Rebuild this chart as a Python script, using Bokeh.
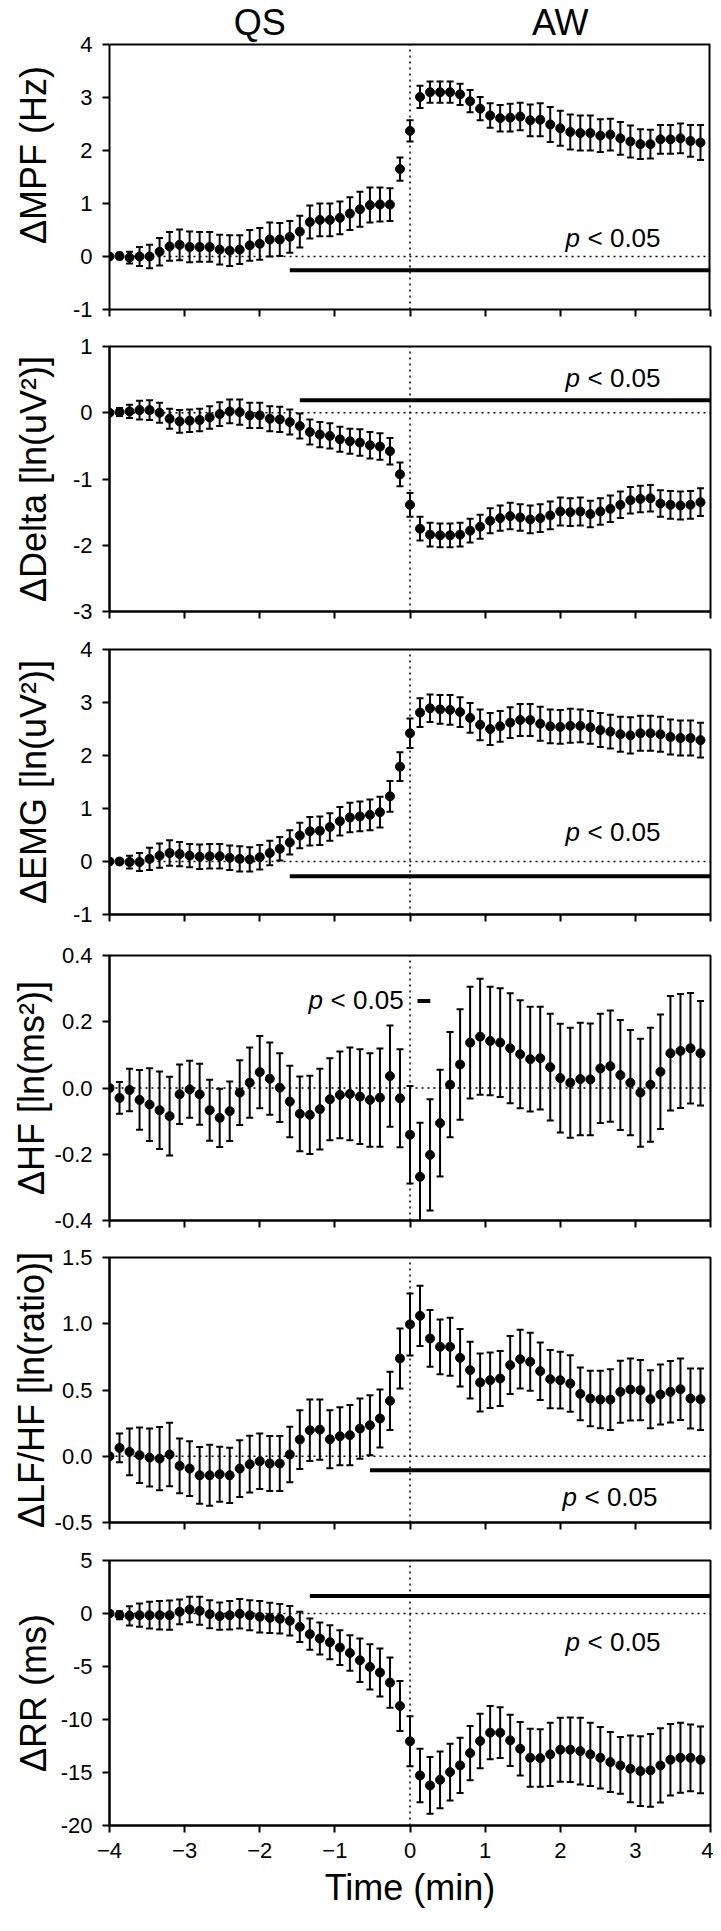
from bokeh.plotting import figure
from bokeh.layouts import column
from bokeh.models import Range1d, FixedTicker, Span, Label, ColumnDataSource
from bokeh.core.properties import value
from bokeh.embed import file_html
from bokeh.resources import INLINE

# ---- data -------------------------------------------------------------
time_s = [-240, -232, -224, -216, -208, -200, -192, -184, -176, -168,
          -160, -152, -144, -136, -128, -120, -112, -104, -96, -88,
          -80, -72, -64, -56, -48, -40, -32, -24, -16, -8,
          0, 8, 16, 24, 32, 40, 48, 56, 64, 72,
          80, 88, 96, 104, 112, 120, 128, 136, 144, 152,
          160, 168, 176, 184, 192, 200, 208, 216, 224, 232]

mpf = [0.00, 0.01, -0.02, 0.00, 0.00, 0.09, 0.19, 0.22, 0.18, 0.18, 0.18, 0.13, 0.11, 0.13, 0.21,
       0.24, 0.32, 0.32, 0.37, 0.47, 0.65, 0.69, 0.69, 0.73, 0.81, 0.89, 0.97, 0.98, 0.98, 1.65,
       2.37, 3.01, 3.10, 3.10, 3.10, 3.06, 2.93, 2.79, 2.66, 2.61, 2.62, 2.64, 2.57, 2.58, 2.49,
       2.42, 2.35, 2.33, 2.33, 2.28, 2.30, 2.23, 2.17, 2.12, 2.12, 2.21, 2.21, 2.23, 2.18, 2.15]
mpf_se = [0, 0.06, 0.11, 0.18, 0.22, 0.26, 0.27, 0.29, 0.29, 0.28, 0.28, 0.28, 0.29, 0.27, 0.29,
          0.30, 0.32, 0.31, 0.30, 0.30, 0.31, 0.31, 0.31, 0.31, 0.31, 0.33, 0.33, 0.32, 0.31, 0.22,
          0.20, 0.21, 0.20, 0.20, 0.20, 0.20, 0.21, 0.22, 0.23, 0.25, 0.26, 0.26, 0.30, 0.31, 0.33,
          0.33, 0.33, 0.33, 0.33, 0.31, 0.30, 0.31, 0.30, 0.28, 0.27, 0.27, 0.27, 0.28, 0.30, 0.33]

delta = [0.00, 0.01, 0.02, 0.04, 0.04, 0.00, -0.09, -0.13, -0.12, -0.11, -0.07, -0.02, 0.02, 0.01, -0.04,
         -0.04, -0.09, -0.10, -0.14, -0.20, -0.29, -0.33, -0.35, -0.40, -0.43, -0.45, -0.49, -0.51, -0.58, -0.93,
         -1.39, -1.75, -1.84, -1.85, -1.85, -1.84, -1.78, -1.72, -1.63, -1.59, -1.56, -1.58, -1.61, -1.59, -1.55,
         -1.49, -1.50, -1.49, -1.53, -1.49, -1.45, -1.39, -1.32, -1.30, -1.29, -1.37, -1.39, -1.40, -1.39, -1.35]
delta_se = [0, 0.06, 0.10, 0.14, 0.15, 0.15, 0.15, 0.17, 0.17, 0.17, 0.17, 0.18, 0.18, 0.19, 0.19,
            0.19, 0.19, 0.19, 0.19, 0.19, 0.19, 0.19, 0.19, 0.19, 0.19, 0.20, 0.20, 0.20, 0.20, 0.18,
            0.18, 0.18, 0.18, 0.18, 0.18, 0.18, 0.18, 0.18, 0.19, 0.19, 0.20, 0.20, 0.21, 0.21, 0.21,
            0.21, 0.21, 0.21, 0.20, 0.20, 0.20, 0.20, 0.20, 0.20, 0.20, 0.20, 0.21, 0.21, 0.21, 0.21]

emg = [0.00, 0.00, -0.01, -0.01, 0.05, 0.11, 0.16, 0.14, 0.11, 0.09, 0.10, 0.10, 0.07, 0.05, 0.04,
       0.08, 0.16, 0.24, 0.36, 0.49, 0.57, 0.58, 0.65, 0.76, 0.83, 0.85, 0.88, 0.93, 1.23, 1.79,
       2.42, 2.81, 2.89, 2.87, 2.86, 2.82, 2.71, 2.58, 2.50, 2.55, 2.62, 2.67, 2.67, 2.60, 2.55,
       2.54, 2.56, 2.56, 2.53, 2.48, 2.45, 2.40, 2.38, 2.42, 2.42, 2.40, 2.35, 2.33, 2.33, 2.29]
emg_se = [0, 0.05, 0.12, 0.17, 0.21, 0.23, 0.24, 0.23, 0.22, 0.23, 0.23, 0.23, 0.23, 0.24, 0.23,
          0.23, 0.23, 0.22, 0.23, 0.24, 0.27, 0.27, 0.26, 0.27, 0.28, 0.28, 0.29, 0.29, 0.29, 0.27,
          0.28, 0.27, 0.26, 0.27, 0.28, 0.28, 0.28, 0.29, 0.30, 0.29, 0.29, 0.30, 0.30, 0.32, 0.32,
          0.32, 0.32, 0.31, 0.31, 0.32, 0.32, 0.33, 0.34, 0.33, 0.33, 0.33, 0.33, 0.33, 0.33, 0.33]

hf = [0.000, -0.030, -0.006, -0.036, -0.050, -0.067, -0.085, -0.019, -0.004, -0.019, -0.067, -0.090, -0.070, -0.014, 0.016,
      0.048, 0.028, 0.001, -0.041, -0.078, -0.081, -0.064, -0.034, -0.021, -0.018, -0.026, -0.036, -0.029, 0.036, -0.031,
      -0.141, -0.268, -0.202, -0.106, 0.010, 0.071, 0.137, 0.155, 0.142, 0.137, 0.120, 0.102, 0.087, 0.090, 0.063,
      0.030, 0.016, 0.027, 0.026, 0.059, 0.066, 0.039, 0.016, -0.014, 0.010, 0.049, 0.105, 0.112, 0.120, 0.105]
hf_se = [0, 0.048, 0.064, 0.090, 0.110, 0.117, 0.119, 0.090, 0.086, 0.092, 0.092, 0.088, 0.090, 0.098, 0.106,
         0.109, 0.109, 0.104, 0.108, 0.113, 0.118, 0.122, 0.124, 0.131, 0.140, 0.143, 0.141, 0.148, 0.153, 0.148,
         0.147, 0.163, 0.168, 0.161, 0.159, 0.167, 0.169, 0.175, 0.164, 0.164, 0.166, 0.163, 0.158, 0.155, 0.161,
         0.164, 0.166, 0.170, 0.169, 0.165, 0.168, 0.166, 0.159, 0.163, 0.172, 0.173, 0.173, 0.172, 0.167, 0.158]

lfhf = [0.000, 0.063, 0.033, 0.008, -0.010, -0.018, 0.013, -0.073, -0.093, -0.144, -0.144, -0.136, -0.144, -0.093, -0.060,
        -0.038, -0.055, -0.055, 0.013, 0.126, 0.196, 0.201, 0.128, 0.151, 0.159, 0.209, 0.234, 0.285, 0.418, 0.738,
        0.995, 1.060, 0.889, 0.826, 0.826, 0.743, 0.650, 0.557, 0.574, 0.587, 0.688, 0.733, 0.713, 0.642, 0.582,
        0.574, 0.549, 0.471, 0.436, 0.428, 0.428, 0.486, 0.504, 0.499, 0.431, 0.466, 0.486, 0.506, 0.436, 0.431]
lfhf_se = [0, 0.108, 0.176, 0.209, 0.219, 0.239, 0.240, 0.207, 0.207, 0.214, 0.230, 0.207, 0.209, 0.214, 0.214,
           0.209, 0.207, 0.207, 0.209, 0.222, 0.232, 0.227, 0.219, 0.219, 0.227, 0.227, 0.227, 0.219, 0.219, 0.227,
           0.234, 0.227, 0.214, 0.207, 0.219, 0.217, 0.214, 0.219, 0.209, 0.207, 0.219, 0.222, 0.219, 0.217, 0.219,
           0.214, 0.214, 0.199, 0.209, 0.217, 0.229, 0.234, 0.234, 0.227, 0.219, 0.226, 0.232, 0.232, 0.227, 0.232]

rr = [0.00, -0.16, -0.22, -0.16, -0.16, -0.16, -0.16, 0.16, 0.38, 0.25, -0.06, -0.25, -0.16, -0.03, -0.16,
      -0.31, -0.41, -0.50, -0.69, -1.26, -1.95, -2.36, -2.71, -3.21, -3.72, -4.41, -5.04, -5.57, -6.52, -8.72,
      -12.06, -15.28, -16.22, -15.69, -14.96, -14.33, -13.17, -12.03, -11.24, -11.24, -11.97, -12.76, -13.61, -13.64, -13.29,
      -12.85, -12.85, -12.98, -13.29, -13.61, -14.02, -14.33, -14.65, -14.87, -14.80, -14.33, -13.80, -13.61, -13.61, -13.80]
rr_se = [0, 0.38, 0.91, 1.10, 1.26, 1.35, 1.38, 1.17, 1.20, 1.32, 1.32, 1.29, 1.35, 1.39, 1.42,
         1.48, 1.42, 1.39, 1.39, 1.42, 1.48, 1.51, 1.61, 1.64, 1.67, 2.05, 2.14, 2.27, 2.36, 2.36,
         2.36, 2.52, 2.68, 2.68, 2.68, 2.61, 2.55, 2.58, 2.52, 2.39, 2.42, 2.52, 2.74, 2.71, 2.99,
         3.02, 3.05, 3.15, 2.99, 2.90, 2.83, 2.68, 3.15, 3.28, 3.43, 3.50, 3.37, 3.31, 3.15, 3.15]

y_labels = ["\u0394MPF (Hz)", "\u0394Delta [ln(uV\u00b2)]", "\u0394EMG [ln(uV\u00b2)]",
            "\u0394HF [ln(ms\u00b2)]", "\u0394LF/HF [ln(ratio)]", "\u0394RR (ms)"]
y_ranges = [(-1, 4), (-3, 1), (-1, 4), (-0.4, 0.4), (-0.5, 1.5), (-20, 5)]
y_ticks = [[-1, 0, 1, 2, 3, 4], [-3, -2, -1, 0, 1], [-1, 0, 1, 2, 3, 4],
           [-0.4, -0.2, 0, 0.2, 0.4], [-0.5, 0, 0.5, 1.0, 1.5], [-20, -15, -10, -5, 0, 5]]
y_tick_labels = [["-1", "0", "1", "2", "3", "4"], ["-3", "-2", "-1", "0", "1"], ["-1", "0", "1", "2", "3", "4"],
                 ["-0.4", "-0.2", "0.0", "0.2", "0.4"], ["-0.5", "0.0", "0.5", "1.0", "1.5"],
                 ["-20", "-15", "-10", "-5", "0", "5"]]
x_range = (-4, 4)
x_ticks = [-4, -3, -2, -1, 0, 1, 2, 3, 4]

# significance bars (start, end in minutes, level) and p-label anchors
sig_start = [-1.6, -1.467, -1.6, 0.10, -0.533, -1.333]
sig_end = [4, 4, 4, 0.27, 4, 4]
sig_y = [-0.26, 0.19, -0.28, 0.263, -0.106, 1.64]
ptext_x = [2.07, 2.07, 2.07, -1.35, 2.03, 2.07]
ptext_y = [0.35, 0.53, 0.55, 0.265, -0.307, -2.68]

state_labels = ["QS", "AW"]
state_x = [-2, 2]

# ---- layout -----------------------------------------------------------
FONT = "Liberation Sans"
FRAME_H = 265
HEAD_H = 44          # room above the first panel for the state names
means = [mpf, delta, emg, hf, lfhf, rr]
sems = [mpf_se, delta_se, emg_se, hf_se, lfhf_se, rr_se]
tops = [0, 14, 14, 14, 14, 14]
bottoms = [23, 24, 27, 23, 24, 88]
label_standoff = [16, 16, 16, 0, 0, 4]

t_min = [s / 60.0 for s in time_s]
figs = []
for i in range(6):
    lo, hi = y_ranges[i]
    extra = HEAD_H if i == 0 else 0
    hi_view = hi + extra * (hi - lo) / FRAME_H
    p = figure(frame_width=601, frame_height=FRAME_H + extra,
               x_range=Range1d(*x_range), y_range=Range1d(lo, hi_view),
               output_backend="svg", toolbar_location=None,
               min_border_left=109, min_border_right=3,
               min_border_top=tops[i], min_border_bottom=bottoms[i])
    p.grid.visible = False

    for ax in (p.xaxis[0], p.yaxis[0]):
        ax.axis_line_width = 2
        ax.major_tick_line_width = 2
        ax.major_tick_out = 7
        ax.major_tick_in = 0
        ax.minor_tick_line_color = None
        ax.major_label_text_font = FONT
        ax.major_label_text_font_size = "22px"
        ax.major_label_text_color = "black"
        ax.axis_label_text_font = FONT
        ax.axis_label_text_font_size = "36px"
        ax.axis_label_text_font_style = "normal"
        ax.axis_label_text_color = "black"

    p.xaxis.ticker = FixedTicker(ticks=x_ticks)
    p.yaxis.ticker = FixedTicker(ticks=y_ticks[i])
    p.yaxis.major_label_overrides = {t: s for t, s in zip(y_ticks[i], y_tick_labels[i])}
    p.yaxis.major_label_standoff = 10
    p.yaxis.axis_label = y_labels[i]
    p.yaxis.axis_label_standoff = label_standoff[i]

    if extra:
        # box drawn by hand so that the header area stays open
        p.outline_line_color = None
        p.yaxis.bounds = (lo, hi)
        p.add_layout(Span(location=hi, dimension="width", line_color="black", line_width=2))
        p.segment(x0=[x_range[1]], y0=[lo], x1=[x_range[1]], y1=[hi],
                  line_color="black", line_width=4)
        p.text(x=state_x, y=[hi + 0.42, hi + 0.42], text=state_labels, text_font=value(FONT),
               text_font_size="36px", text_align="center", text_baseline="middle",
               text_color="black")
    else:
        p.outline_line_color = "black"
        p.outline_line_width = 2

    if i < 5:
        p.xaxis.major_label_overrides = {t: "" for t in x_ticks}
        p.xaxis.major_label_text_color = None
        p.xaxis.major_label_text_font_size = "1px"
        p.xaxis.major_label_standoff = 0
    else:
        p.xaxis.major_label_standoff = 10
        p.xaxis.axis_label = "Time (min)"
        p.xaxis.axis_label_standoff = 6

    # reference lines
    p.add_layout(Span(location=0, dimension="width", line_color="black",
                      line_dash="2 4", line_width=1.5))
    p.segment(x0=[0], y0=[lo], x1=[0], y1=[hi], line_color="black",
              line_dash="2 4", line_width=1.5)

    m = means[i]
    se = sems[i]
    src = ColumnDataSource(dict(t=t_min, m=m,
                                up=[a + b for a, b in zip(m, se)],
                                dn=[a - b for a, b in zip(m, se)]))
    p.segment(x0="t", y0="dn", x1="t", y1="up", source=src,
              line_color="black", line_width=2)
    p.scatter("t", "up", source=src, marker="dash", size=7,
              line_color="black", line_width=2)
    p.scatter("t", "dn", source=src, marker="dash", size=7,
              line_color="black", line_width=2)
    p.scatter("t", "m", source=src, size=9, fill_color="black",
              line_color="black")

    # significance bar
    p.segment(x0=[sig_start[i]], y0=[sig_y[i]], x1=[sig_end[i]], y1=[sig_y[i]],
              line_color="black", line_width=4)
    p.add_layout(Label(x=ptext_x[i], y=ptext_y[i], text="p", text_font=FONT,
                       text_font_style="italic", text_font_size="26px",
                       text_baseline="middle", text_color="black"))
    p.add_layout(Label(x=ptext_x[i], y=ptext_y[i], x_offset=22, text="< 0.05",
                       text_font=FONT, text_font_size="26px",
                       text_baseline="middle", text_color="black"))
    figs.append(p)

layout = column(*figs, spacing=0)
open("out.html", "w").write(file_html(layout, INLINE))
